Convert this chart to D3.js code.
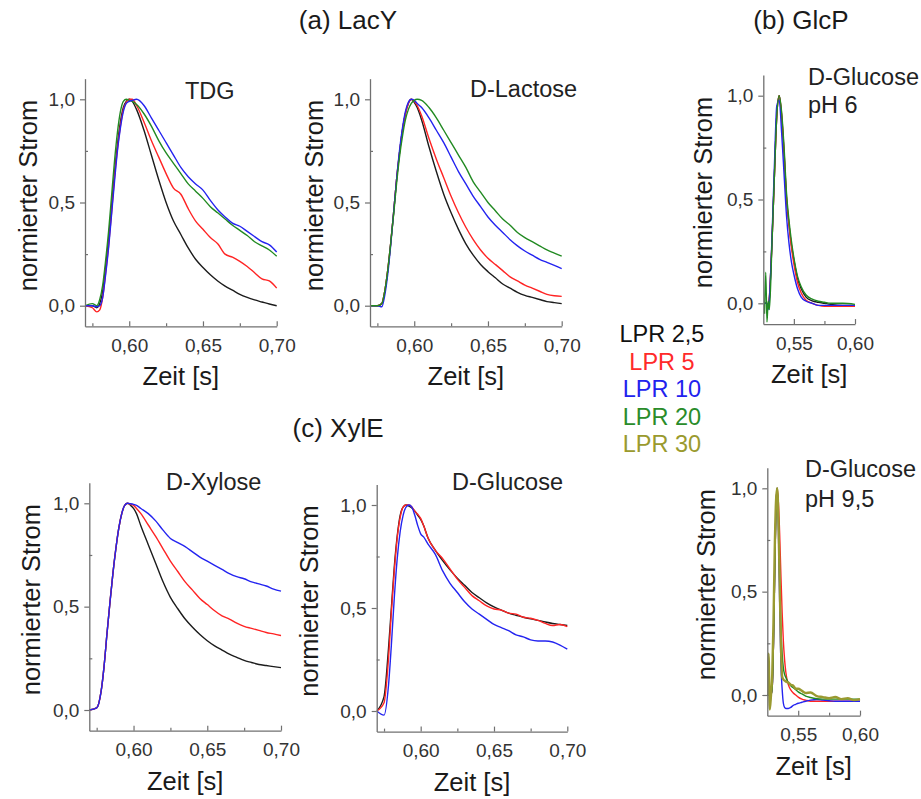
<!DOCTYPE html>
<html><head><meta charset="utf-8">
<script src="https://cdn.jsdelivr.net/npm/d3@7"></script>
<style>
html,body{margin:0;padding:0;background:#fff;}
text{font-family:"Liberation Sans",Arial,sans-serif;}
</style></head>
<body>
<svg id="chart" width="921" height="799"></svg>
<script>
// ---------- DATA ----------
const tMain = [0.570,0.575,0.578,0.580,0.582,0.584,0.586,0.588,0.590,0.592,0.594,0.596,0.598,0.600,0.602,0.605,0.610,0.615,0.620,0.625,0.630,0.635,0.640,0.645,0.650,0.655,0.660,0.665,0.670,0.675,0.680,0.685,0.690,0.695,0.700];

// (a) LacY – TDG
const tdgLPR2_5 = [0,0,-0.01,0.01,0.07,0.19,0.32,0.48,0.64,0.78,0.89,0.96,0.99,1.0,0.99,0.95,0.85,0.73,0.61,0.50,0.41,0.345,0.28,0.225,0.185,0.15,0.12,0.095,0.075,0.055,0.04,0.028,0.018,0.008,0.0];
const tdgLPR5   = [0,-0.01,-0.03,-0.02,0.04,0.16,0.29,0.45,0.62,0.76,0.87,0.95,0.985,1.0,1.0,0.97,0.89,0.80,0.72,0.64,0.57,0.54,0.47,0.41,0.37,0.33,0.30,0.25,0.235,0.215,0.19,0.16,0.13,0.12,0.085];
const tdgLPR10  = [0,0,-0.005,0.0,0.04,0.15,0.28,0.44,0.60,0.75,0.86,0.94,0.98,0.99,0.995,1.0,0.97,0.91,0.85,0.79,0.73,0.67,0.625,0.59,0.56,0.51,0.465,0.43,0.40,0.385,0.36,0.335,0.31,0.295,0.26];
const tdgLPR20  = [0,0.01,0.0,0.03,0.10,0.22,0.36,0.53,0.70,0.84,0.94,0.99,1.0,0.995,0.99,0.975,0.93,0.87,0.80,0.74,0.69,0.64,0.59,0.555,0.52,0.48,0.45,0.42,0.39,0.365,0.34,0.31,0.29,0.27,0.24];

// (a) LacY – D-Lactose
const lacLPR2_5 = [0,0,0.01,0.07,0.17,0.30,0.45,0.61,0.74,0.85,0.93,0.98,1.0,0.985,0.96,0.90,0.77,0.65,0.54,0.45,0.37,0.30,0.245,0.20,0.165,0.135,0.105,0.085,0.065,0.05,0.04,0.03,0.02,0.015,0.01];
const lacLPR5   = [0,0,0.01,0.07,0.17,0.30,0.45,0.61,0.74,0.85,0.93,0.98,1.0,0.99,0.97,0.92,0.81,0.71,0.62,0.53,0.45,0.38,0.32,0.27,0.23,0.20,0.17,0.14,0.12,0.10,0.085,0.07,0.055,0.048,0.045];
const lacLPR10  = [0,0,-0.005,0.05,0.15,0.29,0.45,0.61,0.75,0.86,0.94,0.985,1.0,0.995,0.98,0.96,0.91,0.85,0.79,0.72,0.65,0.59,0.53,0.48,0.43,0.39,0.355,0.32,0.29,0.265,0.245,0.225,0.21,0.195,0.18];
const lacLPR20  = [0,0,0.01,0.07,0.17,0.30,0.44,0.59,0.72,0.82,0.90,0.95,0.98,0.995,1.0,0.995,0.96,0.91,0.85,0.79,0.73,0.67,0.60,0.55,0.50,0.46,0.42,0.39,0.355,0.33,0.31,0.29,0.27,0.255,0.24];

// (c) XylE – D-Xylose
const xylLPR2_5 = [0,0.01,0.09,0.21,0.37,0.52,0.66,0.78,0.88,0.95,0.99,1.0,0.99,0.975,0.95,0.89,0.80,0.71,0.62,0.545,0.49,0.44,0.40,0.365,0.335,0.31,0.29,0.27,0.255,0.24,0.23,0.22,0.215,0.21,0.205];
const xylLPR5   = [0,0.01,0.09,0.21,0.37,0.52,0.66,0.78,0.88,0.95,0.99,1.0,0.995,0.99,0.975,0.95,0.895,0.84,0.78,0.72,0.67,0.62,0.58,0.54,0.51,0.48,0.455,0.44,0.42,0.405,0.395,0.385,0.375,0.368,0.36];
const xylLPR10  = [0,0.01,0.09,0.21,0.37,0.52,0.66,0.78,0.88,0.95,0.99,1.0,0.998,0.995,0.99,0.975,0.95,0.915,0.87,0.83,0.81,0.79,0.765,0.74,0.72,0.70,0.68,0.66,0.645,0.635,0.62,0.61,0.60,0.585,0.575];

// (c) XylE – D-Glucose
const xglLPR2_5 = [0,0.07,0.30,0.50,0.70,0.85,0.95,0.99,1.0,0.995,0.985,0.97,0.95,0.93,0.90,0.84,0.78,0.73,0.685,0.645,0.61,0.575,0.55,0.525,0.505,0.49,0.475,0.465,0.455,0.447,0.44,0.432,0.425,0.42,0.415];
const xglLPR5   = [0,0.04,0.25,0.48,0.68,0.84,0.94,0.99,1.0,1.0,0.99,0.97,0.955,0.935,0.90,0.84,0.78,0.74,0.69,0.64,0.60,0.56,0.535,0.51,0.495,0.49,0.475,0.47,0.455,0.45,0.44,0.425,0.415,0.42,0.41];
const xglLPR10  = [0,-0.02,0.12,0.32,0.55,0.74,0.87,0.95,0.99,1.0,0.99,0.95,0.90,0.86,0.845,0.81,0.76,0.68,0.62,0.575,0.53,0.495,0.47,0.445,0.42,0.405,0.39,0.37,0.36,0.345,0.34,0.34,0.335,0.32,0.30];

// (b) GlcP – D-Glucose pH 6
const tPH6 = [0.526,0.527,0.528,0.529,0.530,0.532,0.534,0.536,0.538,0.540,0.542,0.544,0.546,0.548,0.550,0.553,0.556,0.560,0.565,0.570,0.575,0.580,0.590,0.600];
const ph6LPR2_5 = [0,0,0,-0.02,0.03,0.28,0.60,0.90,1.0,0.90,0.72,0.50,0.38,0.28,0.21,0.12,0.07,0.03,0.012,0.005,0.0,-0.005,-0.01,-0.01];
const ph6LPR5   = [0,0,0,-0.02,0.03,0.28,0.60,0.90,1.0,0.91,0.73,0.51,0.38,0.27,0.19,0.10,0.05,0.015,0.0,-0.01,-0.015,-0.015,-0.015,-0.015];
const ph6LPR10  = [0,0,0,-0.03,0.02,0.30,0.65,0.95,0.98,0.82,0.62,0.42,0.29,0.20,0.14,0.07,0.03,0.01,0.0,-0.01,-0.01,-0.01,-0.01,-0.01];
const ph6LPR20  = [-0.05,0.15,-0.09,0.01,-0.03,0.27,0.60,0.90,1.0,0.92,0.75,0.53,0.40,0.30,0.22,0.13,0.08,0.04,0.02,0.01,0.005,0.0,0.0,-0.005];

// (b) GlcP – D-Glucose pH 9,5
const tPH95 = [0.525,0.526,0.527,0.528,0.529,0.530,0.531,0.532,0.533,0.534,0.535,0.536,0.537,0.538,0.539,0.540,0.542,0.544,0.546,0.548,0.550,0.553,0.556,0.560,0.565,0.570,0.575,0.580,0.585,0.590,0.595,0.600];
const ph95LPR5  = [0,0,0,0,0.04,0.25,0.6,0.9,1.0,0.93,0.78,0.58,0.40,0.26,0.17,0.11,0.05,0.025,0.01,0.0,-0.01,-0.02,-0.025,-0.03,-0.03,-0.03,-0.03,-0.03,-0.03,-0.03,-0.03,-0.03];
const ph95LPR10 = [0,0,0,0,0.04,0.25,0.6,0.9,1.0,0.8,0.45,0.15,0.03,-0.04,-0.06,-0.065,-0.065,-0.06,-0.05,-0.045,-0.04,-0.035,-0.03,-0.025,-0.022,-0.025,-0.028,-0.03,-0.03,-0.03,-0.03,-0.03];
const ph95LPR20 = [0,0,0,0,0.04,0.25,0.6,0.9,1.0,0.85,0.55,0.33,0.2,0.13,0.1,0.085,0.06,0.045,0.035,0.025,0.015,0.005,-0.005,-0.012,-0.018,-0.02,-0.02,-0.02,-0.02,-0.02,-0.02,-0.02];
const ph95LPR30 = [0.0,0.2,-0.07,0.0,0.1,0.35,0.7,0.93,1.0,0.85,0.55,0.25,0.09,0.075,0.07,0.065,0.06,0.05,0.045,0.03,0.03,0.02,0.01,0.012,-0.005,-0.01,-0.015,-0.01,-0.02,-0.015,-0.025,-0.02];

const legendLabels = ["LPR 2,5","LPR 5","LPR 10","LPR 20","LPR 30"];
const xTicksMain = [0.60,0.65,0.70], xMinorMain = [0.575,0.625,0.675];
const xTicksGlc = [0.55,0.60], xMinorGlc = [0.575];
const yTicks = [0.0,0.5,1.0], yMinor = [0.25,0.75];

// ---------- STYLE ----------
const colors = {"LPR 2,5":"#1c1c1c","LPR 5":"#ff2424","LPR 10":"#2424f0","LPR 20":"#228a22","LPR 30":"#9a9a30"};
const legendColors = {"LPR 2,5":"#111","LPR 5":"#ff2a2a","LPR 10":"#2222ee","LPR 20":"#2a8c2a","LPR 30":"#9a9a2e"};
const svg = d3.select("#chart");
const fmt = (f) => (v) => d3.format(f)(v).replace(".", ",");

function panel(cfg){
  const u = cfg.y0 - cfg.y1;
  const x = d3.scaleLinear().domain(cfg.xDomain).range([cfg.x0, cfg.x1]);
  const y = d3.scaleLinear().domain([-0.1, 1.1]).range([cfg.y0 + 0.1*u, cfg.y1 - 0.1*u]);
  const yb = y(-0.1);
  const g = svg.append("g");

  const clipId = "clip" + Math.round(cfg.x0);
  svg.append("clipPath").attr("id", clipId).append("rect")
    .attr("x", cfg.x0).attr("y", y(1.1)).attr("width", cfg.x1 - cfg.x0 + 1).attr("height", yb - y(1.1));
  const lg = g.append("g").attr("clip-path", `url(#${clipId})`);
  cfg.series.forEach(s => {
    const line = d3.line().x((d,i) => x(cfg.t[i])).y(d => y(d)).curve(d3.curveMonotoneX);
    lg.append("path").attr("d", line(s.values)).attr("fill","none")
      .attr("stroke", colors[s.name]).attr("stroke-width", s.w || 1.4).attr("stroke-linejoin","round");
  });

  g.append("g").attr("transform", `translate(${cfg.x0},0)`)
    .call(d3.axisLeft(y).tickValues(yTicks).tickFormat(fmt(".1f")).tickSizeInner(5).tickSizeOuter(0).tickPadding(5));
  g.append("g").attr("transform", `translate(${cfg.x0},0)`)
    .call(d3.axisLeft(y).tickValues(yMinor).tickFormat("").tickSizeInner(-3).tickSizeOuter(0))
    .call(s => s.select(".domain").remove());
  g.append("g").attr("transform", `translate(0,${yb})`)
    .call(d3.axisBottom(x).tickValues(cfg.xTicks).tickFormat(fmt(".2f")).tickSizeInner(-5).tickSizeOuter(0).tickPadding(12));
  g.append("g").attr("transform", `translate(0,${yb})`)
    .call(d3.axisBottom(x).tickValues(cfg.xMinor).tickFormat("").tickSizeInner(-3).tickSizeOuter(0))
    .call(s => s.select(".domain").remove());
  g.selectAll(".domain").attr("stroke","#707070").attr("stroke-width",1.3);
  g.selectAll(".tick line").attr("stroke","#707070").attr("stroke-width",1.2);
  g.selectAll(".tick text").attr("font-size",19).attr("fill","#333")
    .attr("font-family","'Liberation Sans',Arial,sans-serif");

  g.append("text").attr("transform", `translate(${cfg.yTitleX},${(cfg.y0+cfg.y1)/2 - 7}) rotate(-90)`)
    .attr("text-anchor","middle").attr("font-size",25.5).attr("fill","#1a1a1a").text("normierter Strom");
  g.append("text").attr("x", (cfg.x0+cfg.x1)/2).attr("y", yb + 59)
    .attr("text-anchor","middle").attr("font-size",25.5).attr("fill","#1a1a1a").text("Zeit [s]");
  cfg.labels.forEach(l => {
    g.append("text").attr("x", l.x).attr("y", l.y).attr("font-size",23.5).attr("fill","#222").text(l.text);
  });
}

panel({x0:85, x1:276.7, y0:305.7, y1:99.3, xDomain:[0.57,0.70], t:tMain, xTicks:xTicksMain, xMinor:xMinorMain, yTitleX:37,
  labels:[{text:"TDG", x:185, y:99}],
  series:[{name:"LPR 2,5",values:tdgLPR2_5},{name:"LPR 5",values:tdgLPR5},{name:"LPR 20",values:tdgLPR20},{name:"LPR 10",values:tdgLPR10}]});
panel({x0:370, x1:561.7, y0:305.7, y1:99.3, xDomain:[0.57,0.70], t:tMain, xTicks:xTicksMain, xMinor:xMinorMain, yTitleX:323,
  labels:[{text:"D-Lactose", x:470, y:97}],
  series:[{name:"LPR 2,5",values:lacLPR2_5},{name:"LPR 5",values:lacLPR5},{name:"LPR 10",values:lacLPR10},{name:"LPR 20",values:lacLPR20}]});
panel({x0:763.3, x1:855, y0:303.3, y1:95.7, xDomain:[0.525,0.60], t:tPH6, xTicks:xTicksGlc, xMinor:xMinorGlc, yTitleX:712,
  labels:[{text:"D-Glucose", x:808, y:85},{text:"pH 6", x:808, y:113}],
  series:[{name:"LPR 2,5",values:ph6LPR2_5},{name:"LPR 5",values:ph6LPR5},{name:"LPR 10",values:ph6LPR10},{name:"LPR 20",values:ph6LPR20}]});
panel({x0:89.3, x1:281, y0:710, y1:503.3, xDomain:[0.57,0.70], t:tMain, xTicks:xTicksMain, xMinor:xMinorMain, yTitleX:40,
  labels:[{text:"D-Xylose", x:166, y:490}],
  series:[{name:"LPR 2,5",values:xylLPR2_5},{name:"LPR 5",values:xylLPR5},{name:"LPR 10",values:xylLPR10}]});
panel({x0:376.7, x1:567.3, y0:711, y1:505, xDomain:[0.57,0.70], t:tMain, xTicks:xTicksMain, xMinor:xMinorMain, yTitleX:318,
  labels:[{text:"D-Glucose", x:452, y:490}],
  series:[{name:"LPR 2,5",values:xglLPR2_5},{name:"LPR 5",values:xglLPR5},{name:"LPR 10",values:xglLPR10}]});
panel({x0:767.3, x1:860, y0:695, y1:488.3, xDomain:[0.525,0.60], t:tPH95, xTicks:xTicksGlc, xMinor:xMinorGlc, yTitleX:715,
  labels:[{text:"D-Glucose", x:805, y:477},{text:"pH 9,5", x:805, y:507}],
  series:[{name:"LPR 5",values:ph95LPR5},{name:"LPR 10",values:ph95LPR10},{name:"LPR 20",values:ph95LPR20},{name:"LPR 30",values:ph95LPR30,w:2.4}]});

[["(a) LacY",348,29],["(b) GlcP",801,29],["(c) XylE",338,437]].forEach(([t,x,y]) => {
  svg.append("text").attr("x",x).attr("y",y).attr("text-anchor","middle").attr("font-size",26).attr("fill","#1a1a1a").text(t);
});

legendLabels.forEach((l,i) => {
  svg.append("text").attr("x",662).attr("y",342 + i*27.5).attr("text-anchor","middle")
    .attr("font-size",23.5).attr("fill",legendColors[l]).text(l);
});
</script>
</body></html>
